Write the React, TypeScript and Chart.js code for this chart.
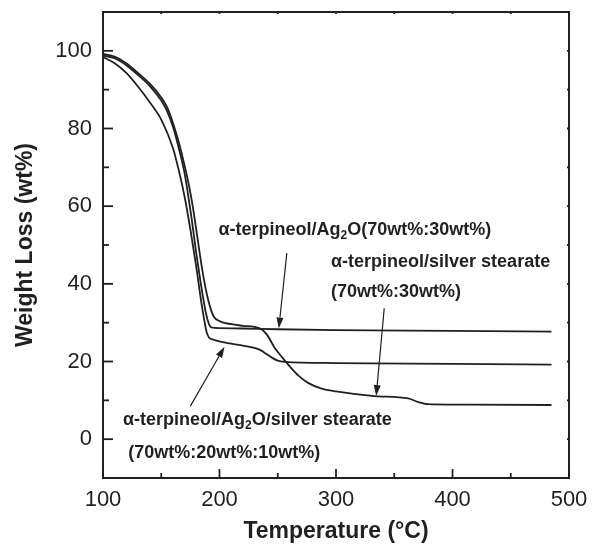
import React, { useEffect, useRef } from "react";
import { Chart, registerables } from "chart.js";
Chart.register(...registerables);

// ---------- data ----------
const ag2oTemp = [100, 110, 120, 130, 140, 150, 155, 160, 165, 170, 173, 176, 180, 184, 188, 190, 192, 194, 200, 220, 250, 300, 400, 485];
const ag2oWeight = [98.8, 98.1, 96.3, 93.8, 91.0, 87.2, 84.5, 80.5, 75.0, 68.5, 63.0, 57.0, 48.0, 40.0, 33.0, 30.5, 29.0, 28.7, 28.6, 28.5, 28.3, 28.1, 27.9, 27.7];

const stearateTemp = [100, 110, 120, 130, 140, 150, 155, 160, 165, 170, 174, 177, 181, 185, 189, 192, 195, 200, 210, 220, 230, 236, 241, 247, 254, 261, 268, 276, 287, 300, 333, 362, 370, 379, 400, 485];
const stearateWeight = [99.2, 98.5, 96.8, 94.3, 91.6, 88.0, 85.5, 81.5, 76.5, 70.5, 65.0, 60.0, 52.0, 44.0, 37.5, 34.0, 31.6, 30.4, 29.6, 29.2, 28.9, 28.3, 26.8, 23.7, 21.0, 18.5, 16.3, 14.5, 13.1, 12.3, 11.1, 10.5, 9.6, 9.0, 8.9, 8.8];

const ternaryTemp = [100, 110, 120, 130, 140, 150, 160, 165, 170, 175, 180, 184, 187, 189, 191, 195, 200, 210, 220, 230, 236, 240, 245, 250, 256, 300, 400, 485];
const ternaryWeight = [98.4, 96.8, 94.3, 90.8, 86.8, 82.3, 75.0, 69.3, 62.5, 54.0, 44.5, 36.0, 30.5, 27.5, 26.2, 25.6, 25.2, 24.6, 24.1, 23.5, 22.8, 22.0, 21.0, 20.2, 19.9, 19.6, 19.4, 19.2];

const xTickLabels = [100, 200, 300, 400, 500];
const xMinorTicks = [150, 250, 350, 450];
const yTickLabels = [0, 20, 40, 60, 80, 100];
const yMinorTicks = [10, 30, 50, 70, 90];
const xRange = [100, 500];
const yRange = [-10, 110];

const xTitle = "Temperature (°C)";
const yTitle = "Weight Loss (wt%)";

// annotation texts ({n} = subscript) and anchor positions in data units
const noteTexts = [
  "α-terpineol/Ag{2}O(70wt%:30wt%)",
  "α-terpineol/silver stearate",
  "(70wt%:30wt%)",
  "α-terpineol/Ag{2}O/silver stearate",
  "(70wt%:20wt%:10wt%)",
];
const noteX = [199.1, 295.7, 295.7, 117.2, 121.6];
const noteY = [52.5, 44.3, 36.6, 3.6, -4.9];

// arrows: tail -> tip (data units)
const arrowTailX = [257.8, 341.4, 175.0];
const arrowTailY = [47.9, 33.7, 8.5];
const arrowTipX = [250.9, 334.5, 204.3];
const arrowTipY = [28.5, 11.1, 23.8];

// ---------- styling ----------
const FAMILY = "'Liberation Sans', Arial, Helvetica, sans-serif";
const INK = "#231f20";

function zip(xs: number[], ys: number[]) {
  return xs.map((x, i) => ({ x, y: ys[i] }));
}

function drawRich(ctx: CanvasRenderingContext2D, text: string, x: number, y: number) {
  const parts: { t: string; sub: boolean }[] = [];
  const re = /\{([^}]*)\}/g;
  let last = 0;
  let m: RegExpExecArray | null;
  while ((m = re.exec(text))) {
    if (m.index > last) parts.push({ t: text.slice(last, m.index), sub: false });
    parts.push({ t: m[1], sub: true });
    last = m.index + m[0].length;
  }
  if (last < text.length) parts.push({ t: text.slice(last), sub: false });
  let cx = x;
  for (const p of parts) {
    ctx.font = p.sub ? `bold 12px ${FAMILY}` : `bold 18px ${FAMILY}`;
    ctx.fillText(p.t, cx, y + (p.sub ? 4 : 0));
    cx += ctx.measureText(p.t).width;
  }
}

const framePlugin = {
  id: "frameAndNotes",
  afterDatasetsDraw(chart: any) {
    const { ctx, chartArea: a, scales } = chart;
    const xs = scales.x;
    const ys = scales.y;
    ctx.save();
    ctx.strokeStyle = INK;
    ctx.fillStyle = INK;
    ctx.lineWidth = 2;
    ctx.strokeRect(a.left, a.top, a.right - a.left, a.bottom - a.top);

    ctx.lineWidth = 1.8;
    const tick = (x1: number, y1: number, x2: number, y2: number) => {
      ctx.beginPath();
      ctx.moveTo(x1, y1);
      ctx.lineTo(x2, y2);
      ctx.stroke();
    };
    xTickLabels.forEach((v) => {
      const px = xs.getPixelForValue(v);
      tick(px, a.bottom, px, a.bottom - 9);
      tick(px, a.top, px, a.top + 2);
    });
    xMinorTicks.forEach((v) => {
      const px = xs.getPixelForValue(v);
      tick(px, a.bottom, px, a.bottom - 5);
      tick(px, a.top, px, a.top + 2);
    });
    yTickLabels.forEach((v) => {
      const py = ys.getPixelForValue(v);
      tick(a.left, py, a.left + 10, py);
      tick(a.right, py, a.right - 2, py);
    });
    yMinorTicks.forEach((v) => {
      const py = ys.getPixelForValue(v);
      tick(a.left, py, a.left + 6, py);
      tick(a.right, py, a.right - 2, py);
    });

    ctx.textAlign = "left";
    ctx.textBaseline = "alphabetic";
    noteTexts.forEach((t, i) => {
      drawRich(ctx, t, xs.getPixelForValue(noteX[i]), ys.getPixelForValue(noteY[i]));
    });

    ctx.lineWidth = 1.2;
    arrowTipX.forEach((_, i) => {
      const x1 = xs.getPixelForValue(arrowTailX[i]);
      const y1 = ys.getPixelForValue(arrowTailY[i]);
      const x2 = xs.getPixelForValue(arrowTipX[i]);
      const y2 = ys.getPixelForValue(arrowTipY[i]);
      const ang = Math.atan2(y2 - y1, x2 - x1);
      const len = 11;
      const hw = 3.5;
      const bx = x2 - len * Math.cos(ang);
      const by = y2 - len * Math.sin(ang);
      ctx.beginPath();
      ctx.moveTo(x1, y1);
      ctx.lineTo(bx, by);
      ctx.stroke();
      ctx.beginPath();
      ctx.moveTo(x2, y2);
      ctx.lineTo(bx + hw * Math.sin(ang), by - hw * Math.cos(ang));
      ctx.lineTo(bx - hw * Math.sin(ang), by + hw * Math.cos(ang));
      ctx.closePath();
      ctx.fill();
    });
    ctx.restore();
  },
};

export default function App() {
  const ref = useRef<HTMLCanvasElement | null>(null);

  useEffect(() => {
    document.body.style.margin = "0";
    if (!ref.current) return;
    const lineStyle = {
      borderColor: INK,
      borderWidth: 1.8,
      pointRadius: 0,
      fill: false,
      cubicInterpolationMode: "monotone" as const,
    };
    const chart = new Chart(ref.current, {
      type: "line",
      data: {
        datasets: [
          { label: "Ag2O", data: zip(ag2oTemp, ag2oWeight), ...lineStyle },
          { label: "silver stearate", data: zip(stearateTemp, stearateWeight), ...lineStyle },
          { label: "Ag2O/silver stearate", data: zip(ternaryTemp, ternaryWeight), ...lineStyle },
        ],
      },
      options: {
        animation: false,
        responsive: true,
        maintainAspectRatio: false,
        layout: { padding: { left: 0, top: 12, right: 28, bottom: 0 } },
        plugins: { legend: { display: false }, tooltip: { enabled: false } },
        scales: {
          x: {
            type: "linear",
            min: xRange[0],
            max: xRange[1],
            grid: { display: false, drawTicks: false },
            border: { display: false },
            afterBuildTicks: (s: any) => {
              s.ticks = xTickLabels.map((v) => ({ value: v }));
            },
            afterFit: (s: any) => {
              s.height = 67;
              s.paddingLeft = 0;
              s.paddingRight = 0;
            },
            ticks: {
              padding: 9,
              color: INK,
              maxRotation: 0,
              autoSkip: false,
              font: { family: FAMILY, size: 22 },
            },
            title: {
              display: true,
              text: xTitle,
              color: INK,
              font: { family: FAMILY, size: 23, weight: "bold" },
              padding: { top: 0, bottom: 0 },
            },
          },
          y: {
            type: "linear",
            min: yRange[0],
            max: yRange[1],
            grid: { display: false, drawTicks: false },
            border: { display: false },
            afterBuildTicks: (s: any) => {
              s.ticks = yTickLabels.map((v) => ({ value: v }));
            },
            afterFit: (s: any) => {
              s.width = 103;
              s.paddingTop = 0;
              s.paddingBottom = 0;
            },
            ticks: {
              padding: 11,
              color: INK,
              autoSkip: false,
              font: { family: FAMILY, size: 22 },
            },
            title: {
              display: true,
              text: yTitle,
              color: INK,
              font: { family: FAMILY, size: 23, weight: "bold" },
              padding: { top: 12, bottom: 0 },
            },
          },
        },
      },
      plugins: [framePlugin],
    });
    return () => chart.destroy();
  }, []);

  return (
    <div style={{ width: 597, height: 545, position: "relative", background: "#fff" }}>
      <canvas ref={ref} />
    </div>
  );
}
